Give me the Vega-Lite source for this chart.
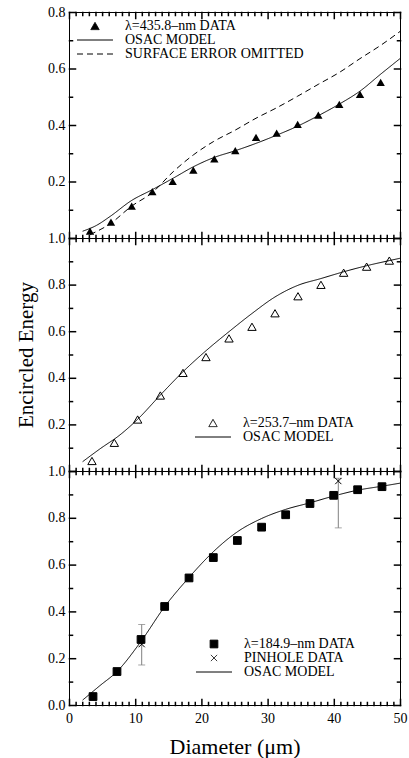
{
  "$schema": "https://vega.github.io/schema/vega-lite/v6.json",
  "padding": {"left": 15, "top": 4, "right": 5, "bottom": 5},
  "spacing": 0,
  "bounds": "flush",
  "config": {
    "font": "Liberation Serif",
    "view": {"stroke": "black", "strokeWidth": 1},
    "axis": {"labelFont": "Liberation Serif", "labelFontSize": 14, "labelColor": "black", "titleFont": "Liberation Serif", "titleFontSize": 21, "titleFontWeight": "normal", "titleColor": "black", "ticks": true, "tickColor": "black", "tickOpacity": 1, "tickWidth": 1.5, "tickCap": "square", "tickRound": false, "domain": false, "grid": false, "labelFlush": false, "labelOverlap": false},
    "legend": {"labelFont": "Liberation Serif", "labelFontSize": 14, "labelColor": "black", "labelLimit": 400, "symbolStrokeColor": "black", "symbolStrokeWidth": 1, "labelOffset": 23, "rowPadding": 0}
  },
  "datasets": {
    "p1pts": [
      {"d": 3.17, "ee": 0.024, "s": "λ=435.8–nm DATA"}, {"d": 6.34, "ee": 0.056, "s": "λ=435.8–nm DATA"}, {"d": 9.47, "ee": 0.113, "s": "λ=435.8–nm DATA"}, {"d": 12.59, "ee": 0.164, "s": "λ=435.8–nm DATA"}, {"d": 15.66, "ee": 0.2, "s": "λ=435.8–nm DATA"}, {"d": 18.78, "ee": 0.24, "s": "λ=435.8–nm DATA"}, {"d": 21.95, "ee": 0.28, "s": "λ=435.8–nm DATA"}, {"d": 25.12, "ee": 0.309, "s": "λ=435.8–nm DATA"}, {"d": 28.25, "ee": 0.356, "s": "λ=435.8–nm DATA"}, {"d": 31.37, "ee": 0.371, "s": "λ=435.8–nm DATA"}, {"d": 34.54, "ee": 0.402, "s": "λ=435.8–nm DATA"}, {"d": 37.66, "ee": 0.435, "s": "λ=435.8–nm DATA"}, {"d": 40.83, "ee": 0.473, "s": "λ=435.8–nm DATA"}, {"d": 43.96, "ee": 0.508, "s": "λ=435.8–nm DATA"}, {"d": 47.08, "ee": 0.551, "s": "λ=435.8–nm DATA"}
    ],
    "p1lines": [
      {"d": 2.06, "ee": 0.024, "s": "OSAC MODEL"}, {"d": 4.18, "ee": 0.045, "s": "OSAC MODEL"}, {"d": 6.19, "ee": 0.076, "s": "OSAC MODEL"}, {"d": 9.47, "ee": 0.133, "s": "OSAC MODEL"}, {"d": 12.49, "ee": 0.17, "s": "OSAC MODEL"}, {"d": 15.76, "ee": 0.212, "s": "OSAC MODEL"}, {"d": 18.78, "ee": 0.252, "s": "OSAC MODEL"}, {"d": 21.8, "ee": 0.284, "s": "OSAC MODEL"}, {"d": 25.12, "ee": 0.309, "s": "OSAC MODEL"}, {"d": 28.25, "ee": 0.335, "s": "OSAC MODEL"}, {"d": 31.37, "ee": 0.364, "s": "OSAC MODEL"}, {"d": 34.54, "ee": 0.396, "s": "OSAC MODEL"}, {"d": 37.66, "ee": 0.433, "s": "OSAC MODEL"}, {"d": 40.83, "ee": 0.474, "s": "OSAC MODEL"}, {"d": 43.96, "ee": 0.52, "s": "OSAC MODEL"}, {"d": 47.08, "ee": 0.58, "s": "OSAC MODEL"}, {"d": 50, "ee": 0.635, "s": "OSAC MODEL"},
      {"d": 3.17, "ee": 0.012, "s": "SURFACE ERROR OMITTED"}, {"d": 6.19, "ee": 0.05, "s": "SURFACE ERROR OMITTED"}, {"d": 9.47, "ee": 0.113, "s": "SURFACE ERROR OMITTED"}, {"d": 12.49, "ee": 0.159, "s": "SURFACE ERROR OMITTED"}, {"d": 15.76, "ee": 0.235, "s": "SURFACE ERROR OMITTED"}, {"d": 18.78, "ee": 0.294, "s": "SURFACE ERROR OMITTED"}, {"d": 21.8, "ee": 0.341, "s": "SURFACE ERROR OMITTED"}, {"d": 25.12, "ee": 0.382, "s": "SURFACE ERROR OMITTED"}, {"d": 28.25, "ee": 0.424, "s": "SURFACE ERROR OMITTED"}, {"d": 31.37, "ee": 0.461, "s": "SURFACE ERROR OMITTED"}, {"d": 34.54, "ee": 0.502, "s": "SURFACE ERROR OMITTED"}, {"d": 37.66, "ee": 0.544, "s": "SURFACE ERROR OMITTED"}, {"d": 40.83, "ee": 0.586, "s": "SURFACE ERROR OMITTED"}, {"d": 43.96, "ee": 0.635, "s": "SURFACE ERROR OMITTED"}, {"d": 47.08, "ee": 0.682, "s": "SURFACE ERROR OMITTED"}, {"d": 50, "ee": 0.731, "s": "SURFACE ERROR OMITTED"}
    ],
    "p2pts": [
      {"d": 3.47, "ee": 0.043, "s": "λ=253.7–nm DATA"}, {"d": 6.85, "ee": 0.121, "s": "λ=253.7–nm DATA"}, {"d": 10.37, "ee": 0.221, "s": "λ=253.7–nm DATA"}, {"d": 13.8, "ee": 0.324, "s": "λ=253.7–nm DATA"}, {"d": 17.22, "ee": 0.421, "s": "λ=253.7–nm DATA"}, {"d": 20.69, "ee": 0.489, "s": "λ=253.7–nm DATA"}, {"d": 24.17, "ee": 0.569, "s": "λ=253.7–nm DATA"}, {"d": 27.64, "ee": 0.619, "s": "λ=253.7–nm DATA"}, {"d": 31.12, "ee": 0.677, "s": "λ=253.7–nm DATA"}, {"d": 34.59, "ee": 0.75, "s": "λ=253.7–nm DATA"}, {"d": 38.06, "ee": 0.799, "s": "λ=253.7–nm DATA"}, {"d": 41.49, "ee": 0.851, "s": "λ=253.7–nm DATA"}, {"d": 44.96, "ee": 0.877, "s": "λ=253.7–nm DATA"}, {"d": 48.39, "ee": 0.903, "s": "λ=253.7–nm DATA"}
    ],
    "p2lines": [
      {"d": 2.06, "ee": 0.04, "s": "OSAC MODEL"}, {"d": 4.68, "ee": 0.095, "s": "OSAC MODEL"}, {"d": 7.7, "ee": 0.155, "s": "OSAC MODEL"}, {"d": 10.37, "ee": 0.222, "s": "OSAC MODEL"}, {"d": 13.8, "ee": 0.326, "s": "OSAC MODEL"}, {"d": 17.22, "ee": 0.426, "s": "OSAC MODEL"}, {"d": 20.69, "ee": 0.516, "s": "OSAC MODEL"}, {"d": 24.17, "ee": 0.598, "s": "OSAC MODEL"}, {"d": 27.64, "ee": 0.676, "s": "OSAC MODEL"}, {"d": 31.12, "ee": 0.747, "s": "OSAC MODEL"}, {"d": 34.59, "ee": 0.797, "s": "OSAC MODEL"}, {"d": 38.06, "ee": 0.826, "s": "OSAC MODEL"}, {"d": 41.49, "ee": 0.855, "s": "OSAC MODEL"}, {"d": 44.96, "ee": 0.881, "s": "OSAC MODEL"}, {"d": 48.39, "ee": 0.903, "s": "OSAC MODEL"}, {"d": 50, "ee": 0.913, "s": "OSAC MODEL"}
    ],
    "p3pts": [
      {"d": 3.63, "ee": 0.036, "s": "λ=184.9–nm DATA"}, {"d": 7.25, "ee": 0.143, "s": "λ=184.9–nm DATA"}, {"d": 10.88, "ee": 0.28, "s": "λ=184.9–nm DATA"}, {"d": 14.45, "ee": 0.421, "s": "λ=184.9–nm DATA"}, {"d": 18.13, "ee": 0.543, "s": "λ=184.9–nm DATA"}, {"d": 21.8, "ee": 0.63, "s": "λ=184.9–nm DATA"}, {"d": 25.43, "ee": 0.703, "s": "λ=184.9–nm DATA"}, {"d": 29.1, "ee": 0.76, "s": "λ=184.9–nm DATA"}, {"d": 32.73, "ee": 0.813, "s": "λ=184.9–nm DATA"}, {"d": 36.4, "ee": 0.861, "s": "λ=184.9–nm DATA"}, {"d": 39.98, "ee": 0.896, "s": "λ=184.9–nm DATA"}, {"d": 43.6, "ee": 0.92, "s": "λ=184.9–nm DATA"}, {"d": 47.28, "ee": 0.933, "s": "λ=184.9–nm DATA"},
      {"d": 10.98, "ee": 0.26, "s": "PINHOLE DATA"}, {"d": 40.68, "ee": 0.957, "s": "PINHOLE DATA"}
    ],
    "p3err": [
      {"d": 10.98, "lo": 0.171, "hi": 0.344}, {"d": 40.68, "lo": 0.757, "hi": 0.969}
    ],
    "p3lines": [
      {"d": 2.06, "ee": 0.021, "s": "OSAC MODEL"}, {"d": 4.68, "ee": 0.083, "s": "OSAC MODEL"}, {"d": 7.25, "ee": 0.143, "s": "OSAC MODEL"}, {"d": 10.88, "ee": 0.272, "s": "OSAC MODEL"}, {"d": 14.45, "ee": 0.42, "s": "OSAC MODEL"}, {"d": 18.13, "ee": 0.545, "s": "OSAC MODEL"}, {"d": 21.8, "ee": 0.655, "s": "OSAC MODEL"}, {"d": 25.43, "ee": 0.74, "s": "OSAC MODEL"}, {"d": 29.1, "ee": 0.797, "s": "OSAC MODEL"}, {"d": 32.73, "ee": 0.836, "s": "OSAC MODEL"}, {"d": 36.4, "ee": 0.864, "s": "OSAC MODEL"}, {"d": 39.98, "ee": 0.893, "s": "OSAC MODEL"}, {"d": 43.6, "ee": 0.918, "s": "OSAC MODEL"}, {"d": 47.28, "ee": 0.935, "s": "OSAC MODEL"}, {"d": 50, "ee": 0.948, "s": "OSAC MODEL"}
    ]
  },
  "vconcat": [
    {
      "width": 331, "height": 226,
      "layer": [
        {
          "data": {"name": "p1lines"},
          "mark": {"type": "line", "interpolate": "monotone", "strokeWidth": 1, "color": "black"},
          "encoding": {
            "x": {"field": "d", "type": "quantitative", "scale": {"domain": [0, 50], "nice": false},
              "axis": {"orient": "bottom", "values": [0,1,2,3,4,5,6,7,8,9,10,11,12,13,14,15,16,17,18,19,20,21,22,23,24,25,26,27,28,29,30,31,32,33,34,35,36,37,38,39,40,41,42,43,44,45,46,47,48,49,50], "labels": false, "title": null, "tickSize": {"condition": {"test": "datum.value % 10 === 0", "value": -6}, "value": -3}}},
            "y": {"field": "ee", "type": "quantitative", "scale": {"domain": [0, 0.8], "nice": false},
              "axis": {"orient": "left", "values": [0,0.1,0.2,0.3,0.4,0.5,0.6,0.7,0.8], "labelExpr": "round(datum.value*10) % 2 === 0 && datum.value > 0.05 ? format(datum.value, '.1f') : ''", "labelPadding": 10, "title": null, "tickSize": {"condition": {"test": "round(datum.value*10) % 2 === 0", "value": -6}, "value": -3}}},
            "strokeDash": {"field": "s", "type": "nominal", "scale": {"domain": ["λ=435.8–nm DATA", "OSAC MODEL", "SURFACE ERROR OMITTED"], "range": [[1, 0], [1, 0], [6, 4]]},
              "legend": {"title": null, "orient": "none", "legendX": 19, "legendY": 7, "symbolSize": 70, "encoding": {"symbols": {"stroke": {"value": "black"}, "strokeWidth": {"value": 1}, "fill": {"value": "black"}}}}}
          }
        },
        {
          "data": {"name": "p1pts"},
          "mark": {"type": "point", "filled": true, "color": "black", "size": 70, "opacity": 1},
          "encoding": {
            "x": {"field": "d", "type": "quantitative",
              "axis": {"orient": "top", "values": [0,1,2,3,4,5,6,7,8,9,10,11,12,13,14,15,16,17,18,19,20,21,22,23,24,25,26,27,28,29,30,31,32,33,34,35,36,37,38,39,40,41,42,43,44,45,46,47,48,49,50], "labels": false, "title": null, "tickSize": {"condition": {"test": "datum.value % 10 === 0", "value": -6}, "value": -3}}},
            "y": {"field": "ee", "type": "quantitative",
              "axis": {"orient": "right", "values": [0,0.1,0.2,0.3,0.4,0.5,0.6,0.7,0.8], "labels": false, "title": null, "tickSize": {"condition": {"test": "round(datum.value*10) % 2 === 0", "value": -6}, "value": -3}}},
            "shape": {"field": "s", "type": "nominal", "scale": {"domain": ["λ=435.8–nm DATA", "OSAC MODEL", "SURFACE ERROR OMITTED"], "range": ["triangle-up", "M-4.3,0H4.3", "M-4.3,0H4.3"]},
              "legend": {"title": null, "orient": "none", "legendX": 19, "legendY": 7, "symbolSize": 70, "encoding": {"symbols": {"stroke": {"value": "black"}, "strokeWidth": {"value": 1}, "fill": {"value": "black"}}}}}
          }
        }
      ],
      "resolve": {"axis": {"x": "independent", "y": "independent"}}
    },
    {
      "width": 331, "height": 233,
      "layer": [
        {
          "data": {"name": "p2lines"},
          "mark": {"type": "line", "interpolate": "monotone", "strokeWidth": 1, "color": "black"},
          "encoding": {
            "x": {"field": "d", "type": "quantitative", "scale": {"domain": [0, 50], "nice": false},
              "axis": {"orient": "bottom", "values": [0,1,2,3,4,5,6,7,8,9,10,11,12,13,14,15,16,17,18,19,20,21,22,23,24,25,26,27,28,29,30,31,32,33,34,35,36,37,38,39,40,41,42,43,44,45,46,47,48,49,50], "labels": false, "title": null, "tickSize": {"condition": {"test": "datum.value % 10 === 0", "value": -6}, "value": -3}}},
            "y": {"field": "ee", "type": "quantitative", "scale": {"domain": [0, 1], "nice": false},
              "axis": {"orient": "left", "values": [0,0.1,0.2,0.3,0.4,0.5,0.6,0.7,0.8,0.9,1.0], "labelExpr": "round(datum.value*10) % 2 === 0 && datum.value > 0.05 ? format(datum.value, '.1f') : ''", "labelPadding": 10, "title": "Encircled Energy", "titlePadding": 11, "tickSize": {"condition": {"test": "round(datum.value*10) % 2 === 0", "value": -6}, "value": -3}}},
            "strokeDash": {"field": "s", "type": "nominal", "scale": {"domain": ["λ=253.7–nm DATA", "OSAC MODEL"], "range": [[1, 0], [1, 0]]},
              "legend": {"title": null, "orient": "none", "legendX": 137, "legendY": 178, "symbolSize": 70, "rowPadding": -3}}
          }
        },
        {
          "data": {"name": "p2pts"},
          "mark": {"type": "point", "filled": false, "color": "black", "strokeWidth": 1, "size": 70, "opacity": 1},
          "encoding": {
            "x": {"field": "d", "type": "quantitative",
              "axis": {"orient": "top", "values": [0,1,2,3,4,5,6,7,8,9,10,11,12,13,14,15,16,17,18,19,20,21,22,23,24,25,26,27,28,29,30,31,32,33,34,35,36,37,38,39,40,41,42,43,44,45,46,47,48,49,50], "labels": false, "title": null, "tickSize": {"condition": {"test": "datum.value % 10 === 0", "value": -6}, "value": -3}}},
            "y": {"field": "ee", "type": "quantitative",
              "axis": {"orient": "right", "values": [0,0.1,0.2,0.3,0.4,0.5,0.6,0.7,0.8,0.9,1.0], "labels": false, "title": null, "tickSize": {"condition": {"test": "round(datum.value*10) % 2 === 0", "value": -6}, "value": -3}}},
            "shape": {"field": "s", "type": "nominal", "scale": {"domain": ["λ=253.7–nm DATA", "OSAC MODEL"], "range": ["triangle-up", "M-4.3,0H4.3"]},
              "legend": {"title": null, "orient": "none", "legendX": 137, "legendY": 178, "symbolSize": 70, "rowPadding": -3}}
          }
        }
      ],
      "resolve": {"axis": {"x": "independent", "y": "independent"}}
    },
    {
      "width": 331, "height": 234,
      "layer": [
        {
          "data": {"name": "p3lines"},
          "mark": {"type": "line", "interpolate": "monotone", "strokeWidth": 1, "color": "black"},
          "encoding": {
            "x": {"field": "d", "type": "quantitative", "scale": {"domain": [0, 50], "nice": false},
              "axis": {"orient": "bottom", "values": [0,1,2,3,4,5,6,7,8,9,10,11,12,13,14,15,16,17,18,19,20,21,22,23,24,25,26,27,28,29,30,31,32,33,34,35,36,37,38,39,40,41,42,43,44,45,46,47,48,49,50], "labelExpr": "datum.value % 10 === 0 ? datum.label : ''", "labelPadding": 12, "title": "Diameter (μm)", "titleFontSize": 22, "titlePadding": 8, "tickSize": {"condition": {"test": "datum.value % 10 === 0", "value": -6}, "value": -3}}},
            "y": {"field": "ee", "type": "quantitative", "scale": {"domain": [0, 1], "nice": false},
              "axis": {"orient": "left", "values": [0,0.1,0.2,0.3,0.4,0.5,0.6,0.7,0.8,0.9,1.0], "labelExpr": "round(datum.value*10) % 2 === 0 ? format(datum.value, '.1f') : ''", "labelPadding": 10, "title": null, "tickSize": {"condition": {"test": "round(datum.value*10) % 2 === 0", "value": -6}, "value": -3}}},
            "strokeDash": {"field": "s", "type": "nominal", "scale": {"domain": ["λ=184.9–nm DATA", "PINHOLE DATA", "OSAC MODEL"], "range": [[1, 0], [1, 0], [1, 0]]},
              "legend": {"title": null, "orient": "none", "legendX": 138, "legendY": 166, "symbolSize": 60, "encoding": {"symbols": {"stroke": {"value": "black"}, "strokeWidth": {"value": 1}, "fill": {"value": "black"}}}}}
          }
        },
        {
          "data": {"name": "p3err"},
          "mark": {"type": "errorbar", "ticks": {"size": 7}, "color": "#808080"},
          "encoding": {
            "x": {"field": "d", "type": "quantitative", "axis": null},
            "y": {"field": "lo", "type": "quantitative", "axis": null},
            "y2": {"field": "hi"}
          }
        },
        {
          "data": {"name": "p3pts"},
          "mark": {"type": "point", "filled": true, "color": "black", "stroke": "black", "strokeWidth": 1, "size": 60, "opacity": 1},
          "encoding": {
            "x": {"field": "d", "type": "quantitative",
              "axis": {"orient": "top", "values": [0,1,2,3,4,5,6,7,8,9,10,11,12,13,14,15,16,17,18,19,20,21,22,23,24,25,26,27,28,29,30,31,32,33,34,35,36,37,38,39,40,41,42,43,44,45,46,47,48,49,50], "labels": false, "title": null, "tickSize": {"condition": {"test": "datum.value % 10 === 0", "value": -6}, "value": -3}}},
            "y": {"field": "ee", "type": "quantitative",
              "axis": {"orient": "right", "values": [0,0.1,0.2,0.3,0.4,0.5,0.6,0.7,0.8,0.9,1.0], "labels": false, "title": null, "tickSize": {"condition": {"test": "round(datum.value*10) % 2 === 0", "value": -6}, "value": -3}}},
            "shape": {"field": "s", "type": "nominal", "scale": {"domain": ["λ=184.9–nm DATA", "PINHOLE DATA", "OSAC MODEL"], "range": ["square", "M-0.8,-0.8L0.8,0.8M-0.8,0.8L0.8,-0.8", "M-4.65,0H4.65"]},
              "legend": {"title": null, "orient": "none", "legendX": 138, "legendY": 166, "symbolSize": 60, "encoding": {"symbols": {"stroke": {"value": "black"}, "strokeWidth": {"value": 1}, "fill": {"value": "black"}}}}}
          }
        }
      ],
      "resolve": {"axis": {"x": "independent", "y": "independent"}}
    }
  ],
  "resolve": {"scale": {"shape": "independent", "strokeDash": "independent"}, "legend": {"shape": "independent", "strokeDash": "independent"}}
}
